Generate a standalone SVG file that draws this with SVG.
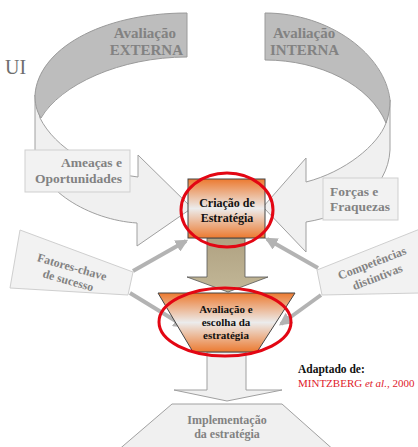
<svg xmlns="http://www.w3.org/2000/svg" width="418" height="447" viewBox="0 0 418 447">
<defs>
<style>
.band{fill:#f0f0f0;stroke:#a0a0a0;stroke-width:1}
.dark{fill:#bdbdbd;stroke:#9a9a9a;stroke-width:1}
.box{fill:#f2f2f2;stroke:#cfcfcf;stroke-width:1}
.gt{font-family:"Liberation Serif","Times New Roman",serif;font-weight:bold;fill:#828282}
.bt{font-family:"Liberation Serif","Times New Roman",serif;font-weight:bold;fill:#111}
.ring{fill:none;stroke:#e30613;stroke-width:3}
.conn{stroke:#b3b3b3;stroke-width:4;fill:none;marker-end:url(#ah)}
</style>
<linearGradient id="og" x1="0" y1="0" x2="0" y2="1">
<stop offset="0" stop-color="#ec7a30"/>
<stop offset="0.5" stop-color="#ececec"/>
<stop offset="1" stop-color="#ec7a30"/>
</linearGradient>
<linearGradient id="kg" x1="0" y1="0" x2="0" y2="1">
<stop offset="0" stop-color="#b0a282"/>
<stop offset="1" stop-color="#c2b797"/>
</linearGradient>
<marker id="ah" viewBox="0 0 10 10" refX="8" refY="5" markerWidth="3.2" markerHeight="3.2" orient="auto" markerUnits="strokeWidth">
<path d="M0,0 L10,5 L0,10 Z" fill="#b3b3b3"/>
</marker>
</defs>
<rect width="418" height="447" fill="#ffffff"/>

<g id="externa">
<path class="band" d="M35,95 L35,150 C37,190 90,220 137,223 L137,246 L192,208 L138,155 L138,177 C95,172 55,148 40,118 Z"/>
<path class="dark" d="M187,13 L187,57 C120,57 60,85 41,118 C36,110 35,103 35,95 C38,50 100,13 187,13 Z"/>
<text class="gt" font-size="15" text-anchor="end"><tspan x="176" y="38">Avaliação</tspan><tspan x="183" y="55">EXTERNA</tspan></text>
</g>

<g id="interna">
<path class="band" d="M390,100 L390,150 C388,190 350,215 306,222 L306,252 L263,207 L306,158 L306,182 C345,172 378,145 386,123 Z"/>
<path class="dark" d="M265,13 L265,60 C320,60 370,85 386,123 C389,115 390,108 390,100 C385,55 330,13 265,13 Z"/>
<text class="gt" font-size="15"><tspan x="273" y="38">Avaliação</tspan><tspan x="270" y="55">INTERNA</tspan></text>
</g>

<g id="ui">
<text x="5" y="74" font-family="Liberation Serif, serif" font-size="20" fill="#6e6e6e">UI</text>
</g>

<g id="ameacas">
<rect class="box" x="25" y="150" width="105" height="42"/>
<text class="gt" font-size="13.5" text-anchor="end"><tspan x="122" y="167">Ameaças e</tspan><tspan x="122" y="183">Oportunidades</tspan></text>
</g>

<g id="forcas">
<rect class="box" x="323" y="178" width="75" height="42"/>
<text class="gt" font-size="13.5"><tspan x="330" y="196">Forças e</tspan><tspan x="330" y="211">Fraquezas</tspan></text>
</g>

<g id="fatores">
<polygon class="box" points="20,230 133,272 128,295 10,288"/>
<g transform="translate(72,267) rotate(16)">
<text class="gt" font-size="12" text-anchor="middle"><tspan x="0" y="4">Fatores-chave</tspan><tspan x="0" y="18">de sucesso</tspan></text>
</g>
</g>

<g id="competencias">
<polygon class="box" points="317,270 420,229 420,293 322,295"/>
<g transform="translate(372,263) rotate(-21)">
<text class="gt" font-size="12" text-anchor="middle"><tspan x="0" y="4">Competências</tspan><tspan x="0" y="19">distintivas</tspan></text>
</g>
</g>

<g id="connectors">
<line class="conn" x1="133" y1="271" x2="186" y2="241"/>
<line class="conn" x1="130" y1="293" x2="184" y2="326"/>
<line class="conn" x1="318" y1="268" x2="267" y2="239"/>
<line class="conn" x1="321" y1="295" x2="281" y2="324"/>
</g>

<g id="seta-meio">
<polygon points="207,238 245,238 245,277 268,277 228,292 187,277 207,277" fill="url(#kg)" stroke="#555" stroke-width="0.8"/>
</g>

<g id="criacao">
<rect x="188" y="179" width="77" height="59" fill="url(#og)" stroke="#444" stroke-width="1"/>
<text class="bt" font-size="12" text-anchor="middle"><tspan x="227" y="207">Criação de</tspan><tspan x="227" y="222">Estratégia</tspan></text>
<ellipse class="ring" cx="227" cy="210" rx="46" ry="37"/>
</g>

<g id="implementacao">
<polygon class="band" points="172,404 282,404 336,452 116,452"/>
<text class="gt" font-size="12" text-anchor="middle" fill="#999"><tspan x="227" y="424">Implementação</tspan><tspan x="227" y="438">da estratégia</tspan></text>
</g>

<g id="seta-baixo">
<polygon class="band" points="207,352 246,352 246,390 282,390 227,401 174,390 207,390"/>
</g>

<g id="avaliacao">
<polygon points="158,293 295,293 257,352 193,352" fill="url(#og)" stroke="#444" stroke-width="1"/>
<text class="bt" font-size="11" text-anchor="middle"><tspan x="226" y="313">Avaliação e</tspan><tspan x="226" y="326">escolha da</tspan><tspan x="226" y="339">estratégia</tspan></text>
<ellipse class="ring" cx="225" cy="322" rx="66" ry="34"/>
</g>

<g id="fonte">
<text x="298" y="373" font-family="Liberation Serif, serif" font-weight="bold" font-size="11.5" fill="#111">Adaptado de:</text>
<text x="298" y="387" font-family="Liberation Serif, serif" font-size="11" fill="#e0202a">MINTZBERG <tspan font-style="italic">et al.</tspan>, 2000</text>
</g>
</svg>
